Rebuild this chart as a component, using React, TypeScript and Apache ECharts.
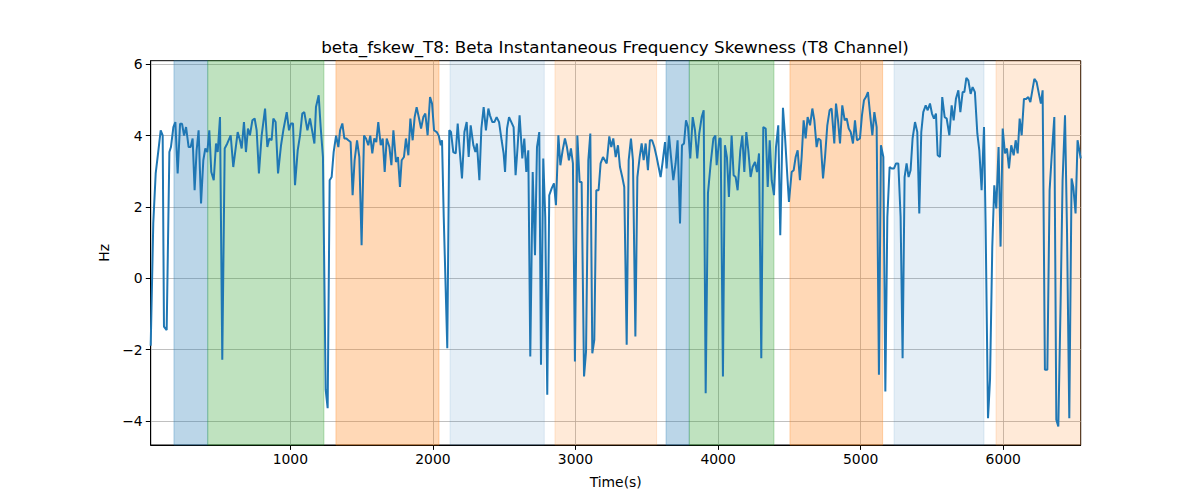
import React, { useEffect, useRef } from "react";
import * as echarts from "echarts";

const times: number[] = [
  21, 39, 56, 75, 91, 105, 114, 133, 152, 163, 180, 194, 210, 227, 241, 255, 269, 287, 301, 315,
  329, 343, 357, 374, 390, 404, 418, 432, 446, 463, 479, 491, 507, 523, 540, 558, 582, 600, 615, 631,
  647, 659, 675, 689, 703, 717, 734, 750, 764,
  780, 799, 823, 839, 853, 869, 881, 897, 914, 935, 951, 975, 991, 1005, 1019, 1033, 1052, 1068, 1084, 1098,
  1120, 1138, 1155, 1169, 1180, 1199, 1213, 1229, 1248, 1262, 1276, 1290, 1304, 1321, 1337, 1349, 1365, 1379, 1393, 1407,
  1423, 1437, 1451, 1468, 1484, 1500, 1517, 1531, 1547, 1561, 1575, 1589,
  1603, 1617, 1634, 1648, 1662, 1676, 1695, 1709, 1723, 1741, 1755, 1769, 1781, 1797, 1811, 1828, 1842, 1858, 1872, 1886,
  1903, 1917, 1933, 1947, 1963, 1980, 1994, 2008, 2027, 2041, 2055, 2064, 2076, 2101, 2115, 2127, 2143, 2160, 2174, 2188,
  2204, 2221, 2237, 2251, 2265, 2284, 2298, 2309, 2326, 2340, 2356, 2372, 2389,
  2400, 2417, 2431, 2447, 2464, 2482, 2496, 2506, 2520, 2534, 2550, 2566, 2580, 2594, 2608, 2627, 2641, 2655, 2669, 2683,
  2700, 2716, 2730, 2746, 2758, 2774, 2788, 2802, 2816, 2833, 2849, 2863, 2880, 2894, 2910, 2926, 2940, 2954, 2968, 2982,
  2996, 3013, 3029, 3043, 3060, 3074, 3090, 3104, 3118, 3132, 3146, 3162, 3176, 3193,
  3219, 3237, 3251, 3265, 3282, 3298, 3312, 3328, 3342, 3359, 3373, 3389, 3403, 3420, 3434, 3450, 3464, 3478, 3492, 3508,
  3522, 3537, 3553, 3569, 3583, 3597, 3611, 3628, 3639, 3656, 3670, 3686, 3702, 3716, 3733, 3747, 3761, 3775, 3789, 3805,
  3822, 3838, 3854, 3868, 3885, 3899, 3913, 3929, 3948, 3967, 3981, 3990, 4009,
  4018, 4034, 4048, 4062, 4076, 4095, 4109, 4123, 4137, 4156, 4170, 4184, 4198, 4212, 4228, 4242, 4259, 4273, 4287, 4303,
  4317, 4334, 4348, 4362, 4376, 4392, 4406, 4422, 4436, 4455, 4469, 4486, 4497, 4516, 4530, 4544, 4558, 4574, 4586, 4600,
  4614, 4628, 4645, 4661, 4675, 4691, 4703, 4719, 4736, 4750, 4766, 4782, 4796, 4815,
  4827, 4841, 4855, 4871, 4888, 4902, 4916, 4930, 4946, 4960, 4974, 4995, 5009, 5023, 5037, 5051, 5068, 5082, 5096, 5112,
  5128, 5142, 5159, 5173, 5187, 5203, 5217, 5234, 5248, 5264, 5280, 5294, 5308, 5322, 5336, 5350, 5364, 5381, 5397, 5411,
  5425, 5439, 5456, 5470, 5486, 5500, 5514, 5528, 5540, 5556, 5572, 5589, 5603, 5622,
  5638, 5652, 5668, 5685, 5699, 5715, 5727, 5741, 5755, 5771, 5785, 5801, 5818, 5832, 5848, 5865, 5876, 5893, 5907, 5923,
  5937, 5951, 5967, 5981, 5996, 6012, 6026, 6040, 6056, 6073, 6087, 6101, 6115, 6129, 6145, 6161, 6176, 6190, 6204, 6218,
  6234, 6250, 6264, 6276, 6292, 6309, 6325, 6339, 6358, 6372, 6386, 6402, 6416, 6433, 6447, 6463, 6479, 6491, 6507, 6521,
  6543,
];

const values: number[] = [
  -1.89, 1.54, 2.94, 3.59, 4.15, 4.01, -1.35, -1.45, 3.54, 3.68, 4.24, 4.38, 2.94, 4.33, 4.33, 4.0, 4.24, 3.68, 3.68, 3.92,
  2.47, 3.59, 4.15, 2.1, 3.31, 3.64, 3.54, 4.15, 2.98, 2.75, 3.78, 3.54, 4.52, -2.28, 3.64, 3.78, 4.01, 3.12, 3.59, 4.1,
  3.87, 3.64, 4.38, 3.54, 4.2, 4.01, 4.43, 4.48, 4.15,
  2.94, 4.0, 4.76, 3.68, 3.92, 3.87, 4.48, 4.38, 2.94, 3.73, 4.15, 4.66, 4.15, 4.34, 4.34, 2.61, 3.59, 4.0, 4.62, 4.66,
  4.15, 4.48, 4.1, 3.78, 4.8, 5.13, 4.24, 3.4, -3.12, -3.64, 2.75, 2.84, 3.54, 4.0, 3.68, 4.15, 4.34, 3.92, 3.92, 3.87,
  3.82, 2.33, 3.31, 3.87, 3.4, 0.93, 4.0, 3.92, 3.73, 4.0, 3.5, 3.92,
  3.82, 4.38, 3.73, 3.92, 2.98, 3.92, 3.68, 3.17, 4.15, 3.26, 3.4, 2.56, 3.31, 3.4, 3.92, 3.45, 4.48, 3.87, 4.52, 4.8,
  4.48, 4.2, 4.52, 4.62, 4.01, 5.08, 4.9, 4.15, 4.1, 4.0, 3.73, 3.87, 1.72, -1.96, 4.15, 4.1, 3.54, 3.5, 4.34, 3.59,
  2.8, 4.1, 4.38, 3.4, 4.29, 3.73, 3.54, 3.78, 2.75, 4.2, 4.8, 4.15, 4.76,
  4.57, 4.38, 4.38, 4.52, 4.38, 3.87, 3.5, 2.98, 4.2, 4.52, 4.38, 4.24, 2.89, 3.68, 4.57, 3.36, 3.92, 2.98, 3.59, -2.19,
  2.98, 0.65, 3.68, 4.1, -2.42, 3.36, 1.72, -3.26, 2.33, 2.52, 2.66, 2.05, 4.01, 3.17, 3.59, 3.92, 3.68, 3.31, 3.64, 3.22,
  -2.33, 4.0, 2.7, 2.7, -2.75, -2.05, 3.31, 4.06, -2.1, -1.72, 2.47, 2.47, 3.22, 3.4,
  3.22, 3.98, 3.68, 3.92, 3.4, 3.73, 3.12, 2.84, 2.56, -1.86, 3.31, 3.92, 3.31, -1.63, 2.84, 3.4, 3.78, 3.31, 3.78, 3.03,
  3.87, 3.87, 3.68, 3.4, 3.12, 2.84, 3.26, 3.82, 3.08, 4.0, 3.4, 2.75, 3.22, 3.87, 1.54, 3.73, 3.78, 4.43, 4.24, 3.36,
  4.52, 4.15, 3.36, 4.06, 4.52, 4.71, -3.22, 2.38, 3.22, 3.92, 4.0, 3.17, 3.92,
  3.92, -2.75, 3.73, 3.4, 2.28, 4.0, 2.89, 2.84, 2.47, 3.59, 4.0, 2.98, 4.1, 3.59, 2.84, 3.12, 3.26, 2.98, 3.5, -2.24,
  4.24, 4.2, 2.56, 3.87, 2.75, 2.33, 3.68, 4.29, 1.21, 4.78, 4.0, 2.84, 2.14, 2.98, 3.03, 3.4, 3.59, 2.75, 3.4, 4.43,
  3.92, 4.52, 4.29, 4.76, 4.43, 3.68, 3.92, 3.87, 2.8, 3.4, 4.29, 4.71, 4.76, 3.78,
  4.9, 4.43, 3.78, 4.85, 4.43, 4.48, 4.2, 4.1, 3.78, 4.43, 3.87, 3.92, 4.57, 4.99, 5.08, 5.22, 4.52, 4.01, 4.66, 4.24,
  -2.7, 3.73, 3.4, -3.17, 1.72, 3.12, 3.08, 3.08, 3.22, 3.22, 1.72, -2.24, 2.84, 3.22, 2.84, 3.03, 3.92, 4.38, 4.1, 1.82,
  4.1, 4.66, 4.85, 4.71, 4.9, 4.62, 4.48, 4.62, 3.45, 3.4, 5.08, 4.52, 4.48, 4.01,
  4.85, 4.43, 5.03, 5.27, 4.66, 5.22, 5.22, 5.62, 5.55, 5.17, 5.36, 5.22, 4.06, 3.59, 2.47, 4.24, 1.54, -3.92, -2.84, 0.89,
  2.61, 1.96, 3.68, 0.89, 4.2, 3.5, 3.64, 3.08, 3.73, 3.45, 3.87, 3.5, 4.48, 4.01, 5.03, 5.03, 5.08, 4.94, 5.27, 5.59,
  5.5, 5.17, 4.9, 5.27, -2.56, -2.56, 2.47, 3.4, 4.52, -3.96, -4.15, -0.7, 2.75, 4.57, 1.35, -3.92, 2.8, 2.56, 1.82, 3.87,
  3.36,
];

const spanStarts: number[] = [184, 421, 1320, 2120, 2856, 3635, 3798, 4504, 5234, 5949];
const spanEnds: number[] = [421, 1236, 2043, 2781, 3569, 3798, 4392, 5154, 5865, 6543];
const spanColors: string[] = [
  "rgba(31,119,180,0.3)",
  "rgba(44,160,44,0.3)",
  "rgba(255,127,14,0.3)",
  "rgba(31,119,180,0.12)",
  "rgba(255,127,14,0.16)",
  "rgba(31,119,180,0.3)",
  "rgba(44,160,44,0.3)",
  "rgba(255,127,14,0.3)",
  "rgba(31,119,180,0.12)",
  "rgba(255,127,14,0.16)",
];

const xTicks: number[] = [1000, 2000, 3000, 4000, 5000, 6000];
const yTicks: number[] = [-4, -2, 0, 2, 4, 6];

const X_MIN = 21;
const X_MAX = 6543;
const Y_MIN = -4.67;
const Y_MAX = 6.1;

const FONT = "DejaVu Sans";

export default function App() {
  const ref = useRef<HTMLDivElement>(null);
  useEffect(() => {
    if (!ref.current) return;
    const chart = echarts.init(ref.current, undefined, { renderer: "svg" });
    const lineData = times.map((t, i) => [t, values[i]]);
    const areas = spanStarts.map((s, i) => [
      {
        xAxis: s,
        itemStyle: { color: spanColors[i], borderColor: spanColors[i], borderWidth: 1 },
      },
      { xAxis: spanEnds[i] },
    ]);
    const fmt = (v: number) => (v < 0 ? "\u2212" + String(Math.abs(v)) : String(v));
    chart.setOption({
      animation: false,
      title: {
        text: "beta_fskew_T8: Beta Instantaneous Frequency Skewness (T8 Channel)",
        left: 610,
        top: 33,
        textAlign: "center",
        textStyle: { fontFamily: FONT, fontSize: 16.7, fontWeight: "normal", color: "#000" },
      },
      grid: {
        left: 150.7,
        right: 119.3,
        top: 60.7,
        bottom: 55,
        containLabel: false,
        show: true,
        borderColor: "#000",
        borderWidth: 1,
        backgroundColor: "transparent",
      },
      xAxis: {
        type: "value",
        min: X_MIN,
        max: X_MAX,
        name: "Time(s)",
        nameLocation: "middle",
        nameGap: 30,
        nameTextStyle: { fontFamily: FONT, fontSize: 13.9, color: "#000" },
        axisLine: { show: true, onZero: false, lineStyle: { color: "#000", width: 1 } },
        axisTick: { show: true, inside: false, length: 4.9, customValues: xTicks, lineStyle: { color: "#000", width: 1 } },
        axisLabel: { customValues: xTicks, margin: 7, fontFamily: FONT, fontSize: 13.9, color: "#000", formatter: fmt },
        splitLine: { show: true, lineStyle: { color: "#b0b0b0", width: 0.8 } },
      },
      yAxis: {
        type: "value",
        min: Y_MIN,
        max: Y_MAX,
        name: "Hz",
        nameLocation: "middle",
        nameGap: 38,
        nameTextStyle: { fontFamily: FONT, fontSize: 13.9, color: "#000" },
        axisLine: { show: true, onZero: false, lineStyle: { color: "#000", width: 1 } },
        axisTick: { show: true, inside: false, length: 4.9, customValues: yTicks, lineStyle: { color: "#000", width: 1 } },
        axisLabel: { customValues: yTicks, margin: 8, fontFamily: FONT, fontSize: 13.9, color: "#000", formatter: fmt },
        splitLine: { show: true, lineStyle: { color: "#b0b0b0", width: 0.8 } },
      },
      series: [
        {
          type: "line",
          data: [],
          z: 1,
          silent: true,
          markArea: { silent: true, data: areas },
        },
        {
          type: "line",
          data: lineData,
          z: 3,
          showSymbol: false,
          symbol: "none",
          lineStyle: { color: "#1f77b4", width: 2 },
          itemStyle: { color: "#1f77b4" },
        },
      ],
    });
    return () => chart.dispose();
  }, []);
  return (
    <div
      ref={ref}
      style={{ position: "fixed", left: 0, top: 0, width: 1200, height: 500, background: "#fff" }}
    />
  );
}
